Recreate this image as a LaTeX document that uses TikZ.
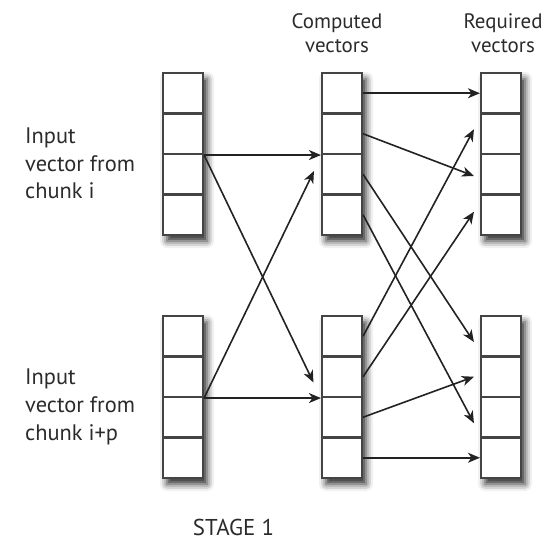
\documentclass[tikz,border=0pt]{standalone}
\usepackage{fontspec}
\setmainfont{PT Sans}
\usetikzlibrary{arrows.meta,calc,shadows.blur}
\definecolor{boxcol}{HTML}{444444}
\definecolor{arrcol}{HTML}{222222}
\definecolor{txtcol}{HTML}{2B2B2B}
\begin{document}
\begin{tikzpicture}[x=1bp,y=-1bp,
  column/.style={draw=boxcol, line width=2.1bp, fill=white, minimum width=40bp, minimum height=162bp, inner sep=0pt,
    blur shadow={shadow xshift=4bp, shadow yshift=-6bp, shadow blur radius=7bp, shadow opacity=85}},
  cell/.style={draw=boxcol, line width=2.1bp, minimum width=40bp, minimum height=40.5bp, inner sep=0pt},
  arr/.style={draw=arrcol, line width=1.6bp, -{Stealth[length=12bp,width=10bp,inset=3.5bp]}},
  lbl/.style={text=txtcol, align=left, inner sep=0pt, font=\fontsize{22.5}{28}\selectfont},
  ttl/.style={text=txtcol, align=center, inner sep=0pt, font=\fontsize{21}{25}\selectfont},
  stg/.style={text=txtcol, inner sep=0pt, font=\fontsize{23}{26}\selectfont}]
\useasboundingbox (0,0) rectangle (556,540);
\foreach \n/\x/\y in {A/183/73, B/183/316, C/342/73, D/342/316, E/501/73, F/501/316} {
  \node[column] (col\n) at (\x,\y+81) {};
  \foreach \i in {1,...,4} {
    \node[cell] (\n\i) at (\x,\y+40.5*\i-20.25) {};
  }
}
% labels (base anchor = baseline of last line)
\node[lbl, anchor=base west] (inA) at (25,199) {Input\\vector from\\chunk i};
\node[lbl, anchor=base west] (inB) at (25,440.5) {Input\\vector from\\chunk i+p};
\node[ttl, anchor=base] (tC) at (337,53) {Computed\\vectors};
\node[ttl, anchor=base] (tE) at (503,53) {Required\\vectors};
\node[stg, anchor=base] (stage) at (233.5,535) {STAGE 1};
% inputs to computed
\draw[arr] (A2.south east) -- (C2.south west);
\draw[arr] (A2.south east) -- ($(D2.south west)+(-7.5,-15.5)$);
\draw[arr] (B2.south east) -- (D2.south west);
\draw[arr] (B2.south east) -- ($(C2.south west)+(-7,16)$);
% computed to required
\draw[arr] (C1.east) -- (E1.west);
\draw[arr] (C2.east) -- ($(E3.west)+(-6,1.75)$);
\draw[arr] (C3.east) -- ($(F1.west)+(-6,5.75)$);
\draw[arr] (C4.east) -- ($(F3.west)+(-6,6)$);
\draw[arr] (D1.east) -- ($(E2.west)+(-6,-4.5)$);
\draw[arr] (D2.east) -- ($(E4.west)+(-6,-3)$);
\draw[arr] (D3.east) -- ($(F2.west)+(-6,0)$);
\draw[arr] (D4.east) -- (F4.west);
\end{tikzpicture}
\end{document}
